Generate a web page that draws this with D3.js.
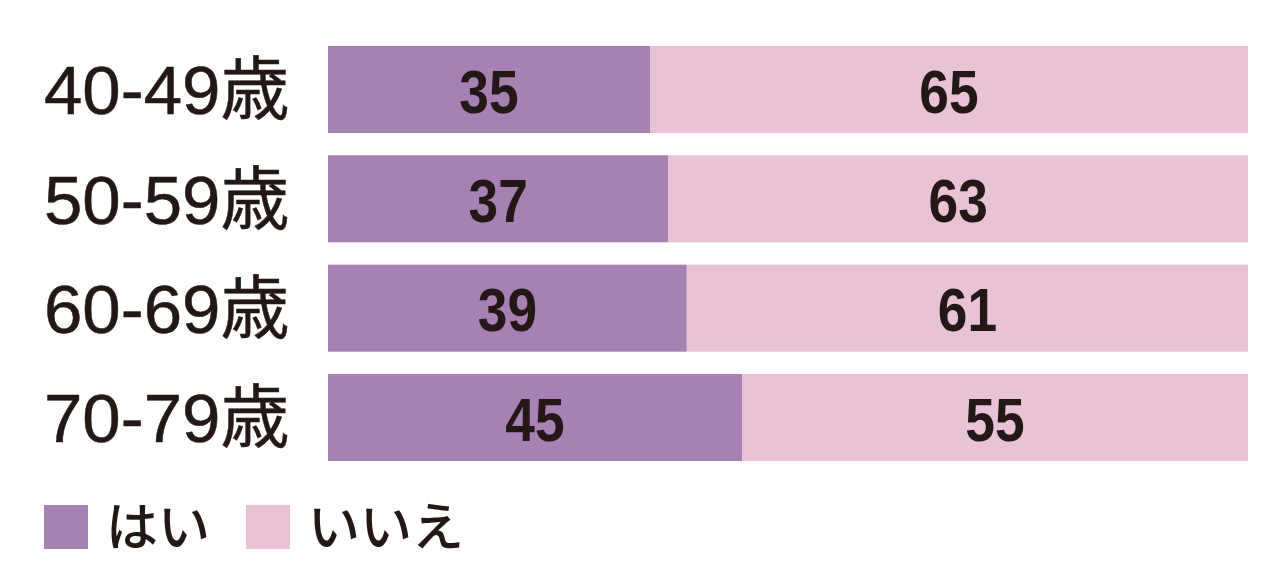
<!DOCTYPE html>
<html>
<head>
<meta charset="utf-8">
<script src="https://cdn.jsdelivr.net/npm/d3@7"></script>
<style>
  body { margin: 0; background: #fff; }
  svg { display: block; }
</style>
</head>
<body>
<svg id="chart" width="1279" height="586"></svg>
<script>
// データ
const ageGroups = ['40-49歳', '50-59歳', '60-69歳', '70-79歳'];
const yesValues = [35, 37, 39, 45];
const noValues = [65, 63, 61, 55];
const seriesNames = ['はい', 'いいえ'];
const seriesColors = ['#a681b4', '#e8c3d6'];

const width = 1279;
const margin = { top: 46, right: 31, left: 328 };
const barsBottom = 461;

const svg = d3.select('#chart');

const xScale = d3.scaleLinear()
  .domain([0, 100])
  .range([margin.left, width - margin.right]);

const yScale = d3.scaleBand()
  .domain(ageGroups)
  .range([margin.top, barsBottom])
  .paddingInner(0.204)
  .paddingOuter(0);

const rows = ageGroups.map((g, i) => ({ group: g, values: [yesValues[i], noValues[i]] }));

const stacked = d3.stack().keys([0, 1]).value((d, k) => d.values[k])(rows);

// バー
const layers = svg.selectAll('.layer')
  .data(stacked)
  .enter()
  .append('g')
  .attr('class', 'layer')
  .attr('fill', (d, i) => seriesColors[i]);

layers.selectAll('rect')
  .data(d => d)
  .enter()
  .append('rect')
  .attr('x', d => xScale(d[0]))
  .attr('y', d => yScale(d.data.group))
  .attr('width', d => xScale(d[1]) - xScale(d[0]))
  .attr('height', yScale.bandwidth());

// 数値ラベル（コンデンス体っぽく横に縮める）
layers.selectAll('text')
  .data(d => d)
  .enter()
  .append('text')
  .attr('transform', d => {
    const cx = (xScale(d[0]) + xScale(d[1])) / 2;
    const cy = yScale(d.data.group) + yScale.bandwidth() / 2 + 1;
    return `translate(${cx},${cy}) scale(0.86,1)`;
  })
  .attr('dy', '0.36em')
  .attr('text-anchor', 'middle')
  .attr('fill', '#231815')
  .style('font-family', '"Liberation Sans", Arial, sans-serif')
  .style('font-weight', 'bold')
  .style('font-size', '62px')
  .text(d => d[1] - d[0]);

// 年齢ラベル
svg.append('g')
  .selectAll('text')
  .data(ageGroups)
  .enter()
  .append('text')
  .attr('x', 44)
  .attr('y', d => yScale(d) + yScale.bandwidth() / 2)
  .attr('dy', '0.36em')
  .attr('fill', '#231815')
  .style('font-family', '"Liberation Sans", "Noto Sans CJK JP", sans-serif')
  .style('font-size', '69px')
  .style('stroke', '#231815')
  .style('stroke-width', '0.5px')
  .text(d => d);

// 凡例
const legendX = [44, 246];
const legend = svg.append('g')
  .selectAll('g')
  .data(seriesNames)
  .enter()
  .append('g')
  .attr('transform', (d, i) => `translate(${legendX[i]},505)`);

legend.append('rect')
  .attr('width', 44)
  .attr('height', 44)
  .attr('fill', (d, i) => seriesColors[i]);

legend.append('text')
  .attr('x', 62)
  .attr('y', 22)
  .attr('dy', '0.36em')
  .attr('fill', '#231815')
  .style('font-family', '"Noto Sans CJK JP", sans-serif')
  .style('font-weight', 500)
  .style('font-size', '52px')
  .text(d => d);
</script>
</body>
</html>
